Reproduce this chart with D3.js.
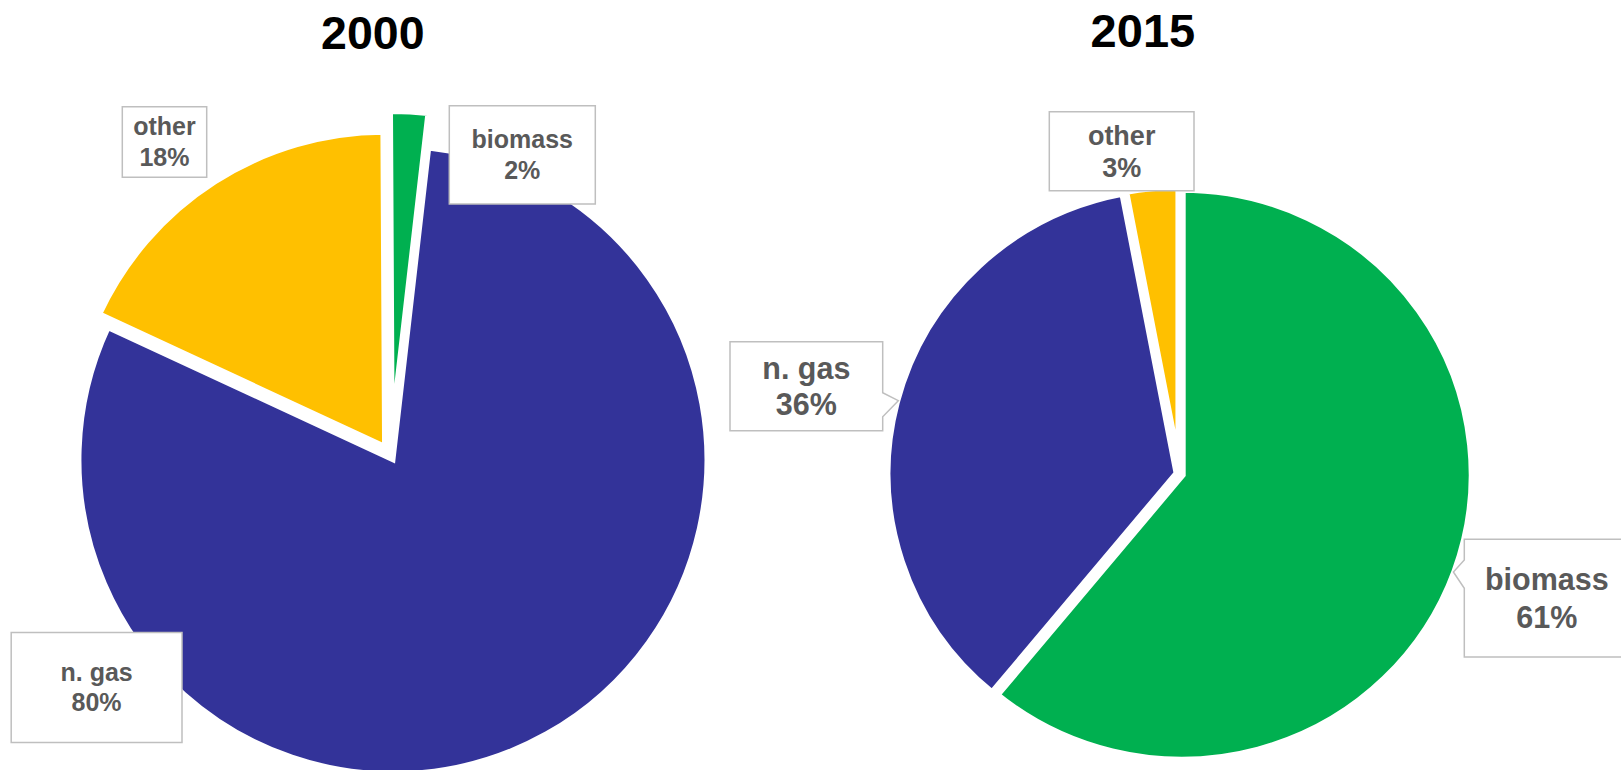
<!DOCTYPE html>
<html>
<head>
<meta charset="utf-8">
<script src="https://cdn.jsdelivr.net/npm/d3@7"></script>
<style>
  html, body { margin: 0; padding: 0; background: #ffffff; }
  svg { display: block; }
</style>
</head>
<body>
<svg id="chart" width="1621" height="770"></svg>
<script>
// ---------------- data ----------------
const categories = ["biomass", "n. gas", "other"];
const years = ["2000", "2015"];
const values2000 = [1.9, 80.1, 18.0];
const values2015 = [61, 36, 3];
const sliceColors = ["#00B050", "#333399", "#FFC000"];

// ---------------- layout (positions / styles only) ----------------
const pieLayouts = [
  { cx: 390.5, cy: 455.5, r: 314, sx: 1.0, startDeg: -0.3, explode: [30, 5, 11], stroke: 5,
    title: { x: 372.8, y: 49.3, size: 46.5 } },
  { cx: 1179.7, cy: 474, r: 286, sx: 1.018, startDeg: 0, explode: [2, 2, 2], stroke: 8,
    title: { x: 1142.9, y: 46.7, size: 47 } }
];
// label boxes, in category order: biomass, n. gas, other
const labelLayouts = [
  [
    { x: 449.3, y: 105.7, w: 146, h: 98.3, font: 25, lh: 31 },
    { x: 11.2, y: 632.6, w: 170.8, h: 110, font: 25, lh: 30 },
    { x: 122.3, y: 106.7, w: 84.4, h: 70.6, font: 25, lh: 31 }
  ],
  [
    { x: 1464.3, y: 539.3, w: 165, h: 117.7, font: 30.5, lh: 38,
      pointer: { side: "left", a: 560, b: 588.3, tx: 1453.4, ty: 572 } },
    { x: 730, y: 341.7, w: 152.7, h: 89, font: 30.5, lh: 36.7,
      pointer: { side: "right", a: 392.7, b: 416.7, tx: 898.3, ty: 400.7 } },
    { x: 1049.3, y: 111.7, w: 144.7, h: 79, font: 27, lh: 32.3 }
  ]
];

const seriesValues = [values2000, values2015];
const svg = d3.select("#chart");
const color = d3.scaleOrdinal().domain(categories).range(sliceColors);
const FONT = "'Liberation Sans', Arial, Helvetica, sans-serif";

seriesValues.forEach((vals, i) => {
  const L = pieLayouts[i];
  const data = categories.map((c, k) => ({ cat: c, value: vals[k], k }));
  const start = L.startDeg * Math.PI / 180;
  const pie = d3.pie().value(d => d.value).sort(null)
    .startAngle(start).endAngle(start + 2 * Math.PI);
  const arc = d3.arc().innerRadius(0).outerRadius(L.r);
  const arcs = pie(data);

  const g = svg.append("g")
    .attr("transform", `translate(${L.cx},${L.cy}) scale(${L.sx},1)`);

  g.selectAll("path.slice")
    .data(arcs)
    .join("path")
    .attr("class", "slice")
    .attr("transform", d => {
      const mid = (d.startAngle + d.endAngle) / 2;
      const e = L.explode[d.data.k];
      return `translate(${Math.sin(mid) * e},${-Math.cos(mid) * e})`;
    })
    .attr("d", arc)
    .attr("fill", d => color(d.data.cat))
    .attr("stroke", "#ffffff")
    .attr("stroke-width", L.stroke)
    .attr("stroke-linejoin", "miter");

  // title
  svg.append("text")
    .attr("x", L.title.x)
    .attr("y", L.title.y)
    .attr("text-anchor", "middle")
    .attr("font-family", FONT)
    .attr("font-weight", "bold")
    .attr("font-size", L.title.size)
    .attr("fill", "#000000")
    .text(years[i]);

  // data labels
  const lg = svg.append("g");
  arcs.forEach(d => {
    const B = labelLayouts[i][d.data.k];
    const x0 = B.x, y0 = B.y, x1 = B.x + B.w, y1 = B.y + B.h;
    let pts;
    if (B.pointer && B.pointer.side === "right") {
      const p = B.pointer;
      pts = [[x0, y0], [x1, y0], [x1, p.a], [p.tx, p.ty], [x1, p.b], [x1, y1], [x0, y1]];
    } else if (B.pointer && B.pointer.side === "left") {
      const p = B.pointer;
      pts = [[x0, y0], [x1, y0], [x1, y1], [x0, y1], [x0, p.b], [p.tx, p.ty], [x0, p.a]];
    } else {
      pts = [[x0, y0], [x1, y0], [x1, y1], [x0, y1]];
    }
    lg.append("path")
      .attr("d", d3.line()(pts) + "Z")
      .attr("fill", "#ffffff")
      .attr("stroke", "#BFBFBF")
      .attr("stroke-width", 1.5);

    const cx = (x0 + x1) / 2, cy = (y0 + y1) / 2;
    const lines = [d.data.cat, Math.round(d.data.value) + "%"];
    const t = lg.append("text")
      .attr("text-anchor", "middle")
      .attr("font-family", FONT)
      .attr("font-weight", "bold")
      .attr("font-size", B.font)
      .attr("fill", "#595959");
    lines.forEach((s, j) => {
      t.append("tspan")
        .attr("x", cx)
        .attr("y", cy + (j - 0.5) * B.lh + 0.35 * B.font)
        .text(s);
    });
  });
});
</script>
</body>
</html>
